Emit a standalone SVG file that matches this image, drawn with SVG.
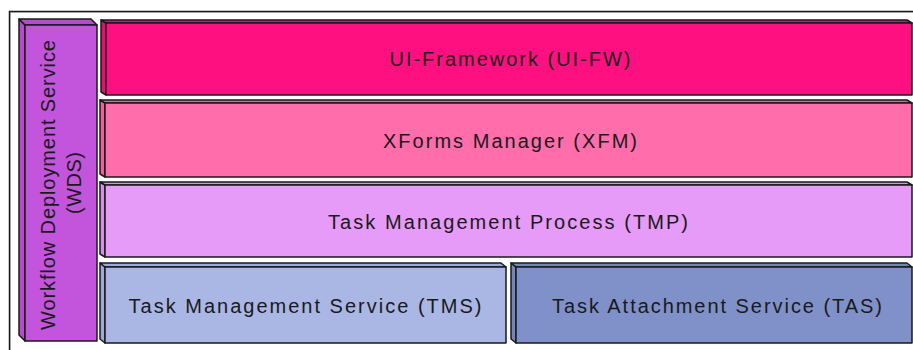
<svg xmlns="http://www.w3.org/2000/svg" width="913" height="350" viewBox="0 0 913 350">
  <style>
    .edge { stroke: #1a1a1a; stroke-width: 1.5; stroke-linejoin: round; }
    .lbl { font-family: "Liberation Sans", Arial, sans-serif; font-size: 20px; fill: #1a1a1a; text-anchor: middle; dominant-baseline: central; }
    .wds { fill: #c255dc; }
    .wds-s { fill: #b64bd0; }
    .uifw { fill: #ff1080; }
    .uifw-s { fill: #ea0a74; }
    .xfm { fill: #ff6dab; }
    .xfm-s { fill: #f0609f; }
    .tmp { fill: #e69bf8; }
    .tmp-s { fill: #d88cec; }
    .tms { fill: #aab6e4; }
    .tms-s { fill: #9ca9da; }
    .tas { fill: #8090c8; }
    .tas-s { fill: #7484bd; }
  </style>

  <rect width="913" height="350" fill="#ffffff"/>

  <!-- outer frame -->
  <rect x="10.5" y="12.5" width="910" height="345" fill="none" stroke="#d0d0d0" stroke-width="1"/>
  <rect x="9.5" y="11.5" width="910" height="345" fill="none" stroke="#1a1a1a" stroke-width="1.5"/>

  <!-- Workflow Deployment Service -->
  <g id="wds">
    <polygon class="wds-s edge" points="19,19 25,25 25,341 19,335"/>
    <polygon class="wds-s edge" points="19,19 91,19 97,25 25,25"/>
    <rect class="wds edge" x="25" y="25" width="72" height="316"/>
    <text class="lbl" transform="translate(48,185) rotate(-90)" textLength="290" lengthAdjust="spacing">Workflow Deployment Service</text>
    <text class="lbl" transform="translate(74,183) rotate(-90)" textLength="62" lengthAdjust="spacing">(WDS)</text>
  </g>

  <!-- UI-Framework -->
  <g id="uifw">
    <polygon class="uifw-s edge" points="101,20 106,23 106,95 101,92"/>
    <polygon class="uifw-s edge" points="101,20 907,20 912,23 106,23"/>
    <rect class="uifw edge" x="106" y="23" width="806" height="72"/>
    <text class="lbl" x="510" y="59" textLength="241" lengthAdjust="spacing">UI-Framework (UI-FW)</text>
  </g>

  <!-- XForms Manager -->
  <g id="xfm">
    <polygon class="xfm-s edge" points="100,100 105,103 105,177 100,174"/>
    <polygon class="xfm-s edge" points="100,100 907,100 912,103 105,103"/>
    <rect class="xfm edge" x="105" y="103" width="807" height="74"/>
    <text class="lbl" x="510" y="141" textLength="254" lengthAdjust="spacing">XForms Manager (XFM)</text>
  </g>

  <!-- Task Management Process -->
  <g id="tmp">
    <polygon class="tmp-s edge" points="100,182 105,185 105,257 100,254"/>
    <polygon class="tmp-s edge" points="100,182 907,182 912,185 105,185"/>
    <rect class="tmp edge" x="105" y="185" width="807" height="72"/>
    <text class="lbl" x="508" y="222" textLength="360" lengthAdjust="spacing">Task Management Process (TMP)</text>
  </g>

  <!-- Task Management Service -->
  <g id="tms">
    <polygon class="tms-s edge" points="100,263 105,267 105,343 100,339"/>
    <polygon class="tms-s edge" points="100,263 501,263 506,267 105,267"/>
    <rect class="tms edge" x="105" y="267" width="401" height="76"/>
    <text class="lbl" x="305" y="306" textLength="353" lengthAdjust="spacing">Task Management Service (TMS)</text>
  </g>

  <!-- Task Attachment Service -->
  <g id="tas">
    <polygon class="tas-s edge" points="511,263 516,267 516,343 511,339"/>
    <polygon class="tas-s edge" points="511,263 907,263 912,267 516,267"/>
    <rect class="tas edge" x="516" y="267" width="396" height="76"/>
    <text class="lbl" x="717" y="306" textLength="330" lengthAdjust="spacing">Task Attachment Service (TAS)</text>
  </g>

  <g id="connectors"/>
</svg>
